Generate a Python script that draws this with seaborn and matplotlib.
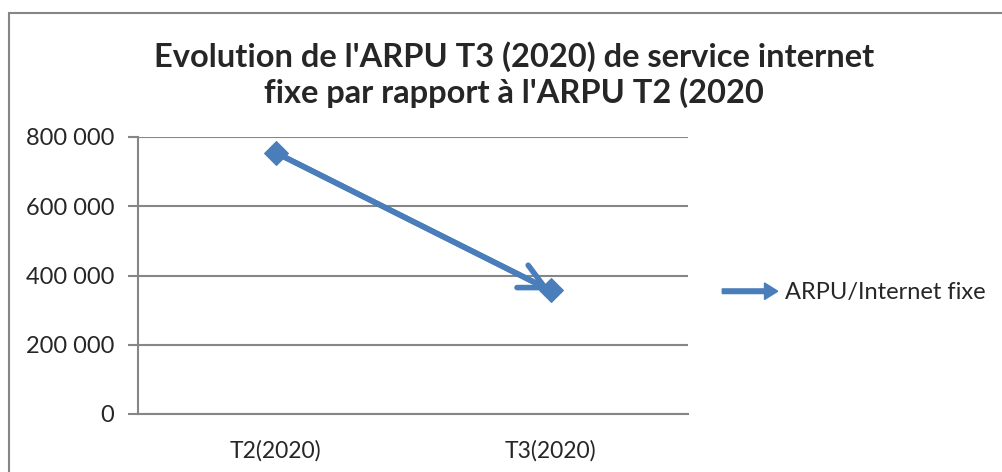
import pandas as pd
import matplotlib.pyplot as plt
import matplotlib.patches as mpatches
from matplotlib.legend_handler import HandlerPatch
from matplotlib.ticker import FuncFormatter, FixedLocator
import seaborn as sns

# données
periodes = ['T2(2020)', 'T3(2020)']
arpu = [755000, 357000]
serie = 'ARPU/Internet fixe'

df = pd.DataFrame({'Periode': periodes, 'ARPU': arpu})

sns.set_style('white')
plt.rcParams['font.family'] = ['Lato', 'DejaVu Sans']

bleu = '#4A7EBB'
gris = '#868686'

fig = plt.figure(figsize=(10.02, 4.72), dpi=100)
ax = fig.add_axes([138 / 1002, 58 / 472, 550 / 1002, 277 / 472])

# cadre du graphique (coupé à droite et en bas comme l'original)
fig.patches.append(mpatches.Rectangle((9 / 1002, -0.1), 1.2, 1 - 13 / 472 + 0.1,
                                      transform=fig.transFigure, fill=False,
                                      edgecolor=gris, linewidth=1.5))

sns.lineplot(data=df, x='Periode', y='ARPU', ax=ax, color=bleu, linewidth=4,
             marker='D', markersize=12, markeredgecolor=bleu, legend=False)

# pointe de flèche sur le dernier point
ax.annotate('', xy=(1, arpu[1]), xytext=(0, arpu[0]),
            arrowprops=dict(arrowstyle='->,head_length=0.9,head_width=0.45',
                            color=bleu, lw=4, shrinkA=0, shrinkB=0,
                            mutation_scale=20))

ax.set_xlim(-0.5, 1.5)
ax.set_ylim(0, 800000)
ax.set_yticks([0, 200000, 400000, 600000, 800000])
ax.yaxis.set_major_formatter(FuncFormatter(lambda v, p: f'{int(v):,}'.replace(',', ' ')))
ax.set_xticks([0, 1])
ax.set_xticklabels(periodes)
ax.xaxis.set_minor_locator(FixedLocator([-0.5, 0.5, 1.5]))
ax.tick_params(axis='x', which='major', length=0, labelsize=16.5, pad=19)
ax.tick_params(axis='x', which='minor', length=8, width=1.5, color=gris, direction='out')
ax.tick_params(axis='y', length=7, width=1.5, color=gris, direction='out',
               labelsize=17, pad=10, left=True)
ax.grid(axis='y', color=gris, linewidth=1.5)
ax.set_xlabel('')
ax.set_ylabel('')
for s in ['top', 'right']:
    ax.spines[s].set_visible(False)
for s in ['left', 'bottom']:
    ax.spines[s].set_color(gris)
    ax.spines[s].set_linewidth(1.5)

fig.text(514 / 1002, 1 - 75 / 472,
         "Evolution de l'ARPU T3 (2020) de service internet\nfixe par rapport à l'ARPU T2 (2020",
         ha='center', va='center', fontsize=23.5, fontweight='bold', linespacing=1.2)


def fleche(legend, orig_handle, xdescent, ydescent, width, height, fontsize):
    return mpatches.FancyArrow(-xdescent, height / 2 - ydescent, width, 0,
                               width=height * 0.28, head_width=height * 1.0,
                               head_length=height * 0.8, length_includes_head=True,
                               color=bleu)


poignee = mpatches.Patch(color=bleu, label=serie)
fig.legend(handles=[poignee], loc='center left',
           bbox_to_anchor=(701 / 1002, 1 - 293 / 472), frameon=False,
           fontsize=17, handlelength=2.35, handletextpad=0.3,
           handler_map={mpatches.Patch: HandlerPatch(patch_func=fleche)})

plt.savefig('out.png', dpi=100)
